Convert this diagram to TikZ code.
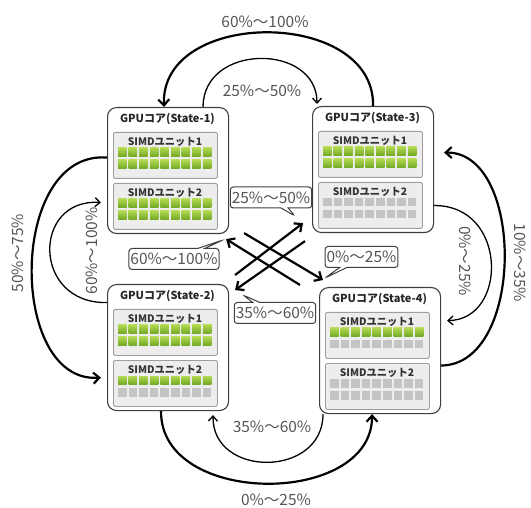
\documentclass[tikz,border=0pt]{standalone}
\usepackage{fontspec}
\newfontfamily\jp{Noto Sans CJK JP}
\usetikzlibrary{arrows.meta,shapes.callouts,calc}
\definecolor{gA}{HTML}{B0D850}
\definecolor{gB}{HTML}{72A826}
\definecolor{gy}{HTML}{C4C4C4}
\definecolor{txt}{HTML}{555555}
\newcommand\sqrow[3]{\foreach \i in {0,...,8} \path[#3] ({#1+\i*10.6},#2) rectangle ++(8.5,8.5);}
\newcommand\coreblk[9]{%
  \node[core] (#1) at (#2,#3) {};
  \node[ttl] (#1t) at ({#2+60.5},{#3+12}) {#4};
  \node[unit] (#1u1) at ({#2+6},{#3+25}) {};
  \node[utl] (#1l1) at ({#2+58},{#3+35}) {SIMDユニット1};
  \sqrow{#2+11}{#3+41}{#5}
  \sqrow{#2+11}{#3+53}{#6}
  \node[unit] (#1u2) at ({#2+6},{#3+76}) {};
  \node[utl] (#1l2) at ({#2+58},{#3+86}) {SIMDユニット2};
  \sqrow{#2+11}{#3+92}{#7}
  \sqrow{#2+11}{#3+104}{#8}
}
\begin{document}
\begin{tikzpicture}[x=1pt,y=-1pt,
  core/.style={draw=black!75, line width=1.1pt, rounded corners=9pt, fill=white,
    minimum width=121pt, minimum height=126pt, anchor=north west, inner sep=0pt},
  unit/.style={draw=black!38, fill=black!7, line width=0.8pt, rounded corners=1.5pt,
    minimum width=104pt, minimum height=46pt, anchor=north west, inner sep=0pt},
  ttl/.style={font=\jp\bfseries\fontsize{11}{13}\selectfont, text=black!85, inner sep=0pt},
  utl/.style={font=\jp\bfseries\fontsize{10.3}{12}\selectfont, text=black!80, inner sep=0pt},
  gsq/.style={top color=gA, bottom color=gB},
  ysq/.style={fill=gy},
  pct/.style={font=\jp\fontsize{15.5}{18}\selectfont, text=txt, inner sep=1pt},
  big/.style={line width=2.2pt, -{Straight Barb[length=6pt,width=11pt]}},
  thin/.style={line width=1.3pt, -{Straight Barb[length=5pt,width=9pt]}},
  call/.style={rectangle callout, draw=black!75, line width=1pt, rounded corners=3pt,
    fill=white, font=\jp\fontsize{15.5}{18}\selectfont, text=txt, inner sep=1.5pt,
    minimum height=21pt}
]
\useasboundingbox (0,0) rectangle (531,508);

\coreblk{s1}{107}{107}{GPUコア(State-1)}{gsq}{gsq}{gsq}{gsq}{}
\coreblk{s3}{312}{106}{GPUコア(State-3)}{gsq}{gsq}{ysq}{ysq}{}
\coreblk{s2}{107}{284}{GPUコア(State-2)}{gsq}{gsq}{gsq}{ysq}{}
\coreblk{s4}{319}{287}{GPUコア(State-4)}{gsq}{ysq}{ysq}{ysq}{}

% top arcs
\draw[big] (s3.north) .. controls (375,8) and (160,8) .. ($(s1.north)+(-4,0)$);
\draw[thin] ($(s1.north)+(35,0)$) .. controls (203,43) and (317,43) .. ($(s3.north west)+(5,-2)$);
% bottom arcs
\draw[big] ($(s2.south)+(-7,0)$) .. controls (160,507) and (372,507) .. ($(s4.south)+(-8,0)$);
\draw[thin] ($(s4.south west)+(4,0)$) .. controls (323,478) and (212,478) .. ($(s2.south)+(45,4)$);
% left arcs
\draw[big] ($(s1.west)+(0,-13)$) .. controls (8,150) and (8,384) .. ($(s2.west)+(-6,30)$);
\draw[thin] ($(s2.west)+(0,-45)$) .. controls (32,304) and (32,198) .. ($(s1.west)+(-6,32)$);
% right arcs
\draw[big] ($(s4.east)+(0,15)$) .. controls (525,365) and (525,152) .. ($(s3.east)+(10,-17)$);
\draw[thin] ($(s3.east)+(0,36)$) .. controls (508,205) and (508,320) .. ($(s4.east)+(6,-30)$);

% diagonals
\draw[big] ($(s1.south east)+(15,-1)$) -- ($(s4.north west)+(4,-7)$);
\draw[big] ($(s4.north west)+(-19,-2)$) -- ($(s1.south east)+(-3,5)$);
\draw[big] ($(s2.north east)+(6,-9)$) -- ($(s3.south west)+(-9,-10)$);
\draw[big] ($(s3.south west)+(-7,8)$) -- ($(s2.north east)+(6,6)$);

% arc labels
\node[pct] (p1) at (265,22) {60\%〜100\%};
\node[pct] (p2) at (262,91) {25\%〜50\%};
\node[pct] (p3) at (276,500) {0\%〜25\%};
\node[pct] (p4) at (272,427) {35\%〜60\%};
\node[pct, rotate=90] (p5) at (18,253) {50\%〜75\%};
\node[pct, rotate=90] (p6) at (92,251) {60\%〜100\%};
\node[pct, rotate=-90] (p7) at (520,263) {10\%〜35\%};
\node[pct, rotate=-90] (p8) at (465,261) {0\%〜25\%};

% callouts
\node[call, callout absolute pointer={(295,216)}] (c1) at (271,197.5) {25\%〜50\%};
\node[call, callout absolute pointer={(223,240)}] (c2) at (174,259) {60\%〜100\%};
\node[call, callout absolute pointer={(325,278)}] (c3) at (361.5,257) {0\%〜25\%};
\node[call, callout absolute pointer={(243,295)}] (c4) at (275,313) {35\%〜60\%};
\end{tikzpicture}
\end{document}
